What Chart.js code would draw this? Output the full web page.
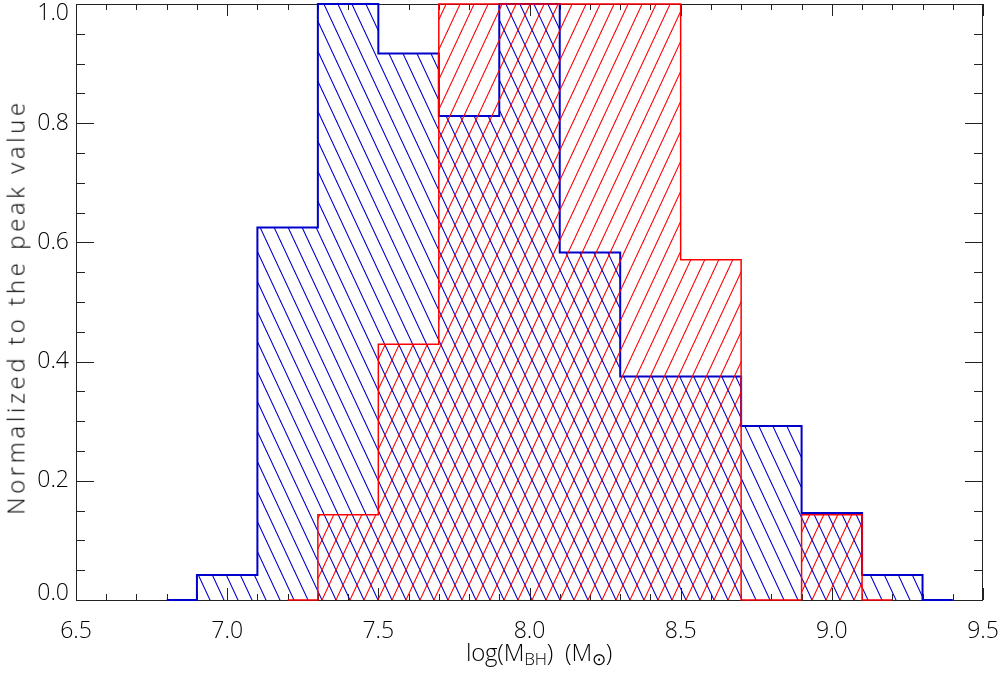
<!DOCTYPE html>
<html><head><meta charset="utf-8">
<script src="https://cdn.jsdelivr.net/npm/chart.js@4.4.1/dist/chart.umd.min.js"></script>
<style>
html,body{margin:0;padding:0;background:#fff;}
#wrap{position:relative;width:1002px;height:690px;overflow:hidden;}
canvas{display:block;}
#xtitle{position:absolute;left:466px;top:639px;font-family:'Open Sans','Liberation Sans',sans-serif;font-weight:300;font-size:24px;line-height:26px;color:#000;white-space:nowrap;letter-spacing:-0.2px;}
#xtitle sub{font-size:17px;line-height:0;vertical-align:-4px;}
#ytitle{position:absolute;left:15px;top:307px;transform:translate(-50%,-50%) rotate(-90deg);font-family:'Open Sans','Liberation Sans',sans-serif;font-weight:300;font-size:24px;letter-spacing:3.6px;color:#000;white-space:nowrap;}
</style></head><body>
<div id="wrap"><canvas id="c" width="1002" height="690"></canvas>
<div id="xtitle">log(M<sub>BH</sub>)&nbsp;&nbsp;(M<sub>⊙</sub>)</div>
<div id="ytitle">Normalized to the peak value</div>
</div>
<script>
// ---- data ----
const binWidth = 0.2;
const blueBinStarts = [6.9, 7.1, 7.3, 7.5, 7.7, 7.9, 8.1, 8.3, 8.5, 8.7, 8.9, 9.1];
const blueValues    = [0.042, 0.625, 1.0, 0.917, 0.812, 1.0, 0.583, 0.375, 0.375, 0.292, 0.146, 0.042];
const redBinStarts  = [7.3, 7.5, 7.7, 7.9, 8.1, 8.3, 8.5, 8.7, 8.9];
const redValues     = [0.143, 0.429, 1.0, 1.0, 1.0, 1.0, 0.571, 0.0, 0.143];
const xTickLabels = ['6.5', '7.0', '7.5', '8.0', '8.5', '9.0', '9.5'];
const yTickLabels = ['0.0', '0.2', '0.4', '0.6', '0.8', '1.0'];

function stepPoints(starts, values) {
  const pts = [{x: starts[0] - binWidth / 2, y: 0}];
  starts.forEach((s, i) => pts.push({x: s, y: values[i]}));
  const end = starts[starts.length - 1] + binWidth;
  pts.push({x: end, y: 0});
  pts.push({x: end + binWidth / 2, y: 0});
  return pts;
}

function hatch(color, dir) {
  const w = 14, h = 30;
  const c = document.createElement('canvas');
  c.width = w; c.height = h;
  const g = c.getContext('2d');
  g.strokeStyle = color; g.lineWidth = 1.1;
  for (const dx of [-w, 0, w]) {
    g.beginPath();
    if (dir > 0) { g.moveTo(dx - w, 2 * h); g.lineTo(dx + 2 * w, -h); }
    else { g.moveTo(dx - w, -h); g.lineTo(dx + 2 * w, 2 * h); }
    g.stroke();
  }
  return g.createPattern(c, 'repeat');
}

const ctx = document.getElementById('c').getContext('2d');
const BLUE = '#0000cc', RED = '#ff0000';
const FONT_FAMILY = "'Open Sans','Liberation Sans',sans-serif";

const framePlugin = {
  id: 'frame',
  beforeDatasetsDraw(chart) {
    const {ctx, chartArea: a, scales: {x, y}} = chart;
    ctx.save();
    ctx.strokeStyle = '#222';
    ctx.lineWidth = 1;
    ctx.strokeRect(a.left + 0.5, a.top + 0.5, a.right - a.left - 1, a.bottom - a.top);
    ctx.beginPath();
    for (let i = 0; i <= 30; i++) {
      const px = Math.round(x.getPixelForValue(6.5 + i * 0.1)) + 0.5;
      const len = (i % 5 === 0) ? 12 : 6;
      ctx.moveTo(px, a.bottom); ctx.lineTo(px, a.bottom - len);
      ctx.moveTo(px, a.top); ctx.lineTo(px, a.top + len);
    }
    for (let j = 0; j <= 20; j++) {
      const py = Math.round(y.getPixelForValue(j * 0.05)) + 0.5;
      const len = (j % 4 === 0) ? 18 : 9;
      ctx.moveTo(a.left, py); ctx.lineTo(a.left + len, py);
      ctx.moveTo(a.right, py); ctx.lineTo(a.right - len, py);
    }
    ctx.stroke();
    ctx.restore();
  }
};

new Chart(ctx, {
  type: 'line',
  data: {
    datasets: [
      {
        label: 'blue', data: stepPoints(blueBinStarts, blueValues), stepped: true,
        borderColor: BLUE, borderWidth: 2, backgroundColor: hatch(BLUE, -1), fill: 'origin',
        pointRadius: 0, clip: false, order: 2
      },
      {
        label: 'red', data: stepPoints(redBinStarts, redValues), stepped: true,
        borderColor: RED, borderWidth: 1.5, backgroundColor: hatch(RED, 1), fill: 'origin',
        pointRadius: 0, clip: false, order: 1
      }
    ]
  },
  options: {
    responsive: false, animation: false, devicePixelRatio: 1,
    layout: {padding: {top: 4, right: 19, left: 0, bottom: 0}},
    plugins: {legend: {display: false}, tooltip: {enabled: false}},
    scales: {
      x: {
        type: 'linear', min: 6.5, max: 9.5,
        grid: {display: false, drawTicks: false}, border: {display: false},
        ticks: {
          stepSize: 0.5, autoSkip: false, maxRotation: 0, padding: 18, color: '#000',
          font: {family: FONT_FAMILY, size: 23, weight: '300'},
          callback: (v) => { const s = v.toFixed(1); return xTickLabels.includes(s) ? s : ''; }
        },
        afterFit: (s) => { s.height = 90; s.paddingLeft = 0; s.paddingRight = 0; }
      },
      y: {
        type: 'linear', min: 0, max: 1,
        grid: {display: false, drawTicks: false}, border: {display: false},
        ticks: {
          stepSize: 0.2, padding: 7, color: '#000',
          font: (c) => ({family: FONT_FAMILY, size: 23, weight: '300',
            lineHeight: (c.tick && Math.abs(c.tick.value - 1) < 1e-6) ? '19px' : '14px'}),
          callback: (v) => {
            const s = v.toFixed(1);
            if (s === yTickLabels[yTickLabels.length - 1]) return ['', s];
            if (s === yTickLabels[0]) return [s, ''];
            return s;
          }
        },
        afterFit: (s) => { s.width = 76; s.paddingTop = 0; s.paddingBottom = 0; }
      }
    }
  },
  plugins: [framePlugin]
});
</script>
</body></html>
